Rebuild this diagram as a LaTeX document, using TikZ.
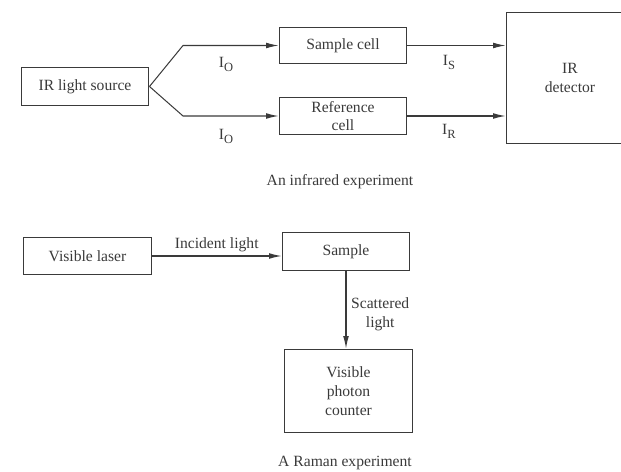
\documentclass[tikz,border=0pt]{standalone}
\usepackage{fontspec}
\setmainfont{Liberation Serif}
\usetikzlibrary{arrows.meta,positioning}
\definecolor{ink}{HTML}{3A3A3A}
\newcommand{\intens}[1]{I\raisebox{-0.55ex}{\footnotesize #1}}

\begin{document}
\begin{tikzpicture}[x=0.0225cm,y=-0.0225cm,font=\normalsize,>={Latex[length=2.8mm,width=1.3mm]},
 box/.style={draw=ink,line width=0.65pt,minimum width=2.88cm,minimum height=0.85cm,align=center,inner sep=1pt,text=ink},
 beam/.style={draw=ink,line width=0.65pt},
 tag/.style={text=ink,inner sep=1pt}]
\clip (0,0) rectangle (621,472);
% infrared experiment
\node[box] (src) at (85,86.5) {IR light source};
\node[box,minimum height=0.83cm] (samp) at (343,45.5) {Sample cell};
\node[box] (ref) at (343,116) {Reference\\cell};
\node[box,minimum height=2.93cm] (det) at (570,78) {IR\\detector};
\coordinate (fu) at (183,45.5);
\coordinate (fd) at (183,116);
\draw[beam,->] (src.east) -- (fu) -- (samp.west);
\draw[beam,->] (src.east) -- (fd) -- (ref.west);
\draw[beam,->] (samp.east) -- (samp.east -| det.west);
\draw[beam,->] (ref.east) -- (ref.east -| det.west);
\node[tag] (io1) at (226,64) {\intens{O}};
\node[tag] (io2) at (226,136) {\intens{O}};
\node[tag] (is) at (449,62) {\intens{S}};
\node[tag] (ir) at (449,131) {\intens{R}};
\node[tag] (capir) at (340,182) {An infrared experiment};
% raman experiment
\node[box] (laser) at (87.5,256) {Visible laser};
\node[box] (rsamp) at (346,251.5) {Sample};
\node[box,minimum height=1.89cm] (count) at (348.5,391) {Visible\\photon\\counter};
\draw[beam,->] (laser.east) -- node[tag,above=1pt] (inc) {Incident light} (laser.east -| rsamp.west);
\draw[beam,->] (rsamp.south) -- node[tag,right=2pt,align=center,yshift=-3pt] (sca) {Scattered\\light} (rsamp.south |- count.north);
\node[tag] (capra) at (345,463) {A Raman experiment};
\end{tikzpicture}
\end{document}
